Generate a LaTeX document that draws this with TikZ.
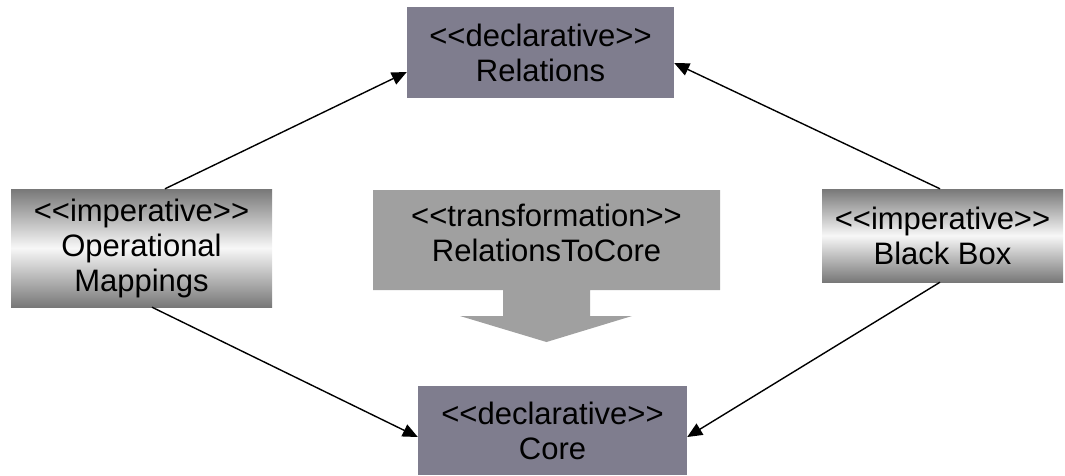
\documentclass[tikz,border=0pt]{standalone}
\usepackage{fontspec}
\setmainfont[Ligatures=TeXOff]{Liberation Sans}
\usetikzlibrary{arrows.meta}

\definecolor{declgray}{RGB}{127,125,142}
\definecolor{transgray}{RGB}{160,160,160}
\definecolor{impgray}{RGB}{120,120,120}

\begin{document}
\begin{tikzpicture}[x=1pt,y=-1pt,
  box/.style={inner sep=0pt,align=center,font=\fontsize{31}{35}\selectfont},
  declarative/.style={box,fill=declgray},
  imperative/.style={box,top color=impgray,bottom color=impgray,middle color=white!97!black},
  link/.style={line width=1.4pt,-{Triangle[length=15pt,width=13pt]}}]
\useasboundingbox (0,0) rectangle (1065,475);

% declarative languages
\node[declarative,minimum width=267pt,minimum height=91pt] (rel) at (540.5,52.5)
  {<<declarative>>\\Relations};
\node[declarative,minimum width=269pt,minimum height=89pt] (core) at (552.5,430.5)
  {<<declarative>>\\Core};

% imperative languages
\node[imperative,minimum width=261pt,minimum height=118pt] (om) at (141.5,248)
  {<<imperative>>\\Operational\\Mappings};
\node[imperative,minimum width=241pt,minimum height=93pt] (bb) at (942.5,235.5)
  {<<imperative>>\\Black Box};

% big block arrow for the transformation
\fill[transgray] (373,190) -- (720,190) -- (720,290) -- (590,290) -- (590,316)
  -- (632,316) -- (546.5,342) -- (460,316) -- (503,316) -- (503,290)
  -- (373,290) -- cycle;
\node[box] (xform) at (546.5,233) {<<transformation>>\\RelationsToCore};

\draw[link] ([xshift=23.5pt]om.north) -- ([yshift=-19.5pt]rel.west);
\draw[link] ([xshift=-2.5pt]bb.north) -- ([yshift=-10.5pt]rel.east);
\draw[link] ([xshift=10.5pt]om.south) -- ([yshift=-6.5pt]core.west);
\draw[link] ([xshift=-2.5pt]bb.south) -- ([yshift=-6.5pt]core.east);
\end{tikzpicture}
\end{document}
